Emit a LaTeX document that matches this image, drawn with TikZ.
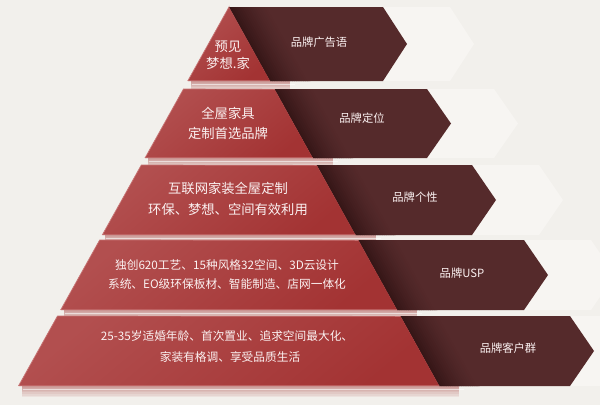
\documentclass[tikz,border=0pt]{standalone}
\usepackage{fontspec}
\setmainfont{Noto Sans CJK SC}
\usetikzlibrary{calc}
\definecolor{bg}{HTML}{F2F0EC}
\definecolor{ghost}{HTML}{F7F5F2}
\definecolor{darkred}{HTML}{552A2B}
\definecolor{darkshadow}{HTML}{361617}
\definecolor{redA}{HTML}{B24F4F}
\definecolor{redB}{HTML}{A33333}
\definecolor{redhl}{HTML}{C67272}
\definecolor{txt}{HTML}{FBF1F1}
\tikzset{
  bigtxt/.style={text=txt, inner sep=0pt, font=\fontsize{13.3}{15}\selectfont},
  smalltxt/.style={text=txt, inner sep=0pt, font=\fontsize{11.7}{14}\selectfont},
  labeltxt/.style={text=txt, inner sep=0pt, font=\fontsize{11.3}{14}\selectfont},
}
\begin{document}
\begin{tikzpicture}[x=1pt,y=-1pt]
\fill[bg] (0,0) rectangle (600,405);
\useasboundingbox (0,0) rectangle (600,405);

\foreach \t/\b/\r in {7/81/383, 89/158/427, 165/235/472, 240/310/524, 316/386/570}{
  \pgfmathsetmacro\lt{229-0.555*(\t-7)}
  \pgfmathsetmacro\rt{229+0.555*(\t-7)}
  \pgfmathsetmacro\lb{229-0.555*(\b-7)}
  \pgfmathsetmacro\rb{229+0.555*(\b-7)}
  \pgfmathsetmacro\m{(\t+\b)/2}
  % ghost arrow
  \fill[ghost] (\rt,\t) -- (\r+67,\t) -- (\r+91,\m) -- (\r+67,\b) -- (\rb,\b) -- cycle;
  % shadow below
  \foreach \k in {1,...,7}{
    \fill[redB, opacity=0.07] (\lb+3,\b) -- (\rb+20,\b) -- (\rb+20,\b+\k*1.6) -- (\lb+3,\b+\k*1.6) -- cycle;
  }
  % dark arrow
  \fill[darkred] (\rt,\t) -- (\r,\t) -- (\r+24,\m) -- (\r,\b) -- (\rb,\b) -- cycle;
  \begin{scope}
    \clip (\rt,\t) -- (\r,\t) -- (\r+24,\m) -- (\r,\b) -- (\rb,\b) -- cycle;
    \foreach \s in {0,...,17}{
      \pgfmathtruncatemacro\pc{100*(1-\s/18)^1.4}
      \fill[darkshadow!\pc!darkred] (\rt+\s*2.2,\t) -- (\rt+\s*2.2+2.8,\t) -- (\rb+\s*2.2+2.8,\b) -- (\rb+\s*2.2,\b) -- cycle;
    }
  \end{scope}
  % red trapezoid
  \shade[top color=redA, bottom color=redB, shading angle=40]
    (\lt,\t) -- (\rt,\t) -- (\rb,\b) -- (\lb,\b) -- cycle;
  \draw[redhl, line width=0.7pt] (\rb,\b-0.4) -- (\lb,\b-0.4) -- (\lt,\t) -- (\rt,\t+0.4);
  % light gap line
  \draw[white, opacity=0.55, line width=1pt] (\lb+4,\b+3.5) -- (\rb+25,\b+3.5);
}

% red texts
\node[bigtxt] (r1a) at (228,47) {预见};
\node[bigtxt] (r1b) at (228,63) {梦想.家};
\node[bigtxt] (r2a) at (228,113) {全屋家具};
\node[bigtxt] (r2b) at (228,133) {定制首选品牌};
\node[bigtxt] (r3a) at (228,188) {互联网家装全屋定制};
\node[bigtxt] (r3b) at (228,209) {环保、梦想、空间有效利用};
\node[smalltxt] (r4a) at (227,265) {独创620工艺、15种风格32空间、3D云设计};
\node[smalltxt] (r4b) at (227,284) {系统、EO级环保板材、智能制造、店网一体化};
\node[smalltxt] (r5a) at (227,336) {25-35岁适婚年龄、首次置业、追求空间最大化、};
\node[smalltxt] (r5b) at (230,357) {家装有格调、享受品质生活};

% dark labels
\node[labeltxt] (d1) at (319,42) {品牌广告语};
\node[labeltxt] (d2) at (362,118) {品牌定位};
\node[labeltxt] (d3) at (415,197) {品牌个性};
\node[labeltxt] (d4) at (462,273) {品牌USP};
\node[labeltxt] (d5) at (508,348) {品牌客户群};
\end{tikzpicture}
\end{document}
